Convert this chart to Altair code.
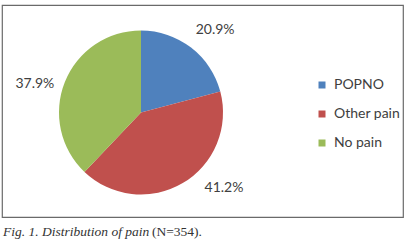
import altair as alt
import pandas as pd

categories = ["POPNO", "Other pain", "No pain"]
values = [20.9, 41.2, 37.9]
colors = ["#4F81BD", "#C0504D", "#9BBB59"]
caption_italic = "Fig. 1. Distribution of pain"
caption_upright = "(N=354)."

df = pd.DataFrame({
    "category": categories,
    "value": values,
    "idx": list(range(len(categories))),
    "label": [f"{v:.1f}%" for v in values],
})

CX, CY = 139, 107.5
FONT = "Lato"
TXT = "#404040"

base = alt.Chart(df)

pie = base.mark_arc(outerRadius=82).encode(
    theta=alt.Theta("value:Q", stack=True, scale=alt.Scale(domain=[0, 100])),
    color=alt.Color(
        "category:N",
        scale=alt.Scale(domain=categories, range=colors),
        sort=categories,
        legend=alt.Legend(
            orient="none", legendX=313, legendY=73, title=None,
            symbolType="square", symbolSize=49, symbolStrokeWidth=0,
            labelFont=FONT, labelFontSize=14, labelColor=TXT,
            labelOffset=5, rowPadding=15, padding=0,
        ),
    ),
    order=alt.Order("idx:Q"),
    x=alt.value(CX),
    y=alt.value(CY),
)

offsets = {"POPNO": (7, 5), "Other pain": (27, -19), "No pain": (-4, 12)}

label_layers = []
for cat in categories:
    dx, dy = offsets[cat]
    lay = base.transform_window(
        cum="sum(value)", sort=[alt.SortField("idx")]
    ).transform_calculate(
        mid="datum.cum - datum.value / 2"
    ).transform_filter(
        alt.datum.category == cat
    ).mark_text(
        radius=110, font=FONT, fontSize=14, color=TXT, dx=dx, dy=dy,
        align="center", baseline="middle",
    ).encode(
        theta=alt.Theta("mid:Q", stack=None, scale=alt.Scale(domain=[0, 100])),
        text="label:N",
        x=alt.value(CX),
        y=alt.value(CY),
    )
    label_layers.append(lay)

cap_df = pd.DataFrame({"a": [caption_italic], "b": [caption_upright]})
cap1 = alt.Chart(cap_df).mark_text(
    font="Liberation Serif", fontSize=13.5, fontStyle="italic", color="#333333",
    align="left", baseline="middle",
).encode(text="a:N", x=alt.value(1), y=alt.value(227))
cap2 = alt.Chart(cap_df).mark_text(
    font="Liberation Serif", fontSize=13.5, color="#333333",
    align="left", baseline="middle",
).encode(text="b:N", x=alt.value(150), y=alt.value(227))

chart = alt.layer(pie, *label_layers, cap1, cap2).properties(
    width=401, height=212,
    padding={"left": 2, "top": 5, "right": 2, "bottom": 28},
    autosize=alt.AutoSizeParams(type="none"),
    background="white",
).configure_view(stroke="#6a6a6a", strokeWidth=1.2)

chart.save("out.html", embed_options={"renderer": "svg", "actions": False})
